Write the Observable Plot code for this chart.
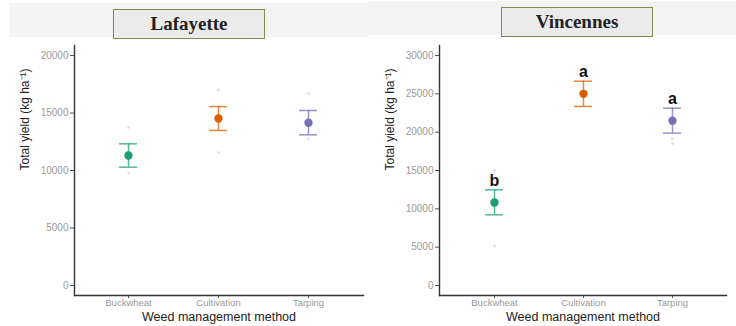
<!DOCTYPE html>
<html>
<head>
<meta charset="utf-8">
<script src="https://cdn.jsdelivr.net/npm/d3@7"></script>
<script src="https://cdn.jsdelivr.net/npm/@observablehq/plot@0.6"></script>
<style>
  html, body { margin: 0; padding: 0; background: #fff; }
  #wrap { position: relative; width: 736px; height: 326px; overflow: hidden; font-family: "Liberation Sans", Arial, sans-serif; }
  .panel { position: absolute; top: 0; width: 368px; height: 326px; }
  .band { position: absolute; top: 3px; height: 34px; background: #f3f3f3; }
  .tbox { position: absolute; height: 28px; background: #ebebeb; border: 1.5px solid #7f8c4c; box-sizing: border-box;
          font-family: "Liberation Serif", "DejaVu Serif", serif; font-weight: bold; font-size: 19px; color: #222;
          display: flex; align-items: center; justify-content: center; }
  .chart { position: absolute; left: 0; top: 40px; }
</style>
</head>
<body>
<div id="wrap">
  <div class="panel" id="left" style="left:0">
    <div class="band" style="left:10px; width:358px"></div>
    <div class="tbox" style="left:113px; top:9px; width:152px; height:30px">Lafayette</div>
    <div class="chart" id="chartL"></div>
  </div>
  <div class="panel" id="right" style="left:368px">
    <div class="band" style="left:0; width:368px; top:1px"></div>
    <div class="tbox" style="left:133px; top:7px; width:152px; height:30px">Vincennes</div>
    <div class="chart" id="chartR"></div>
  </div>
</div>
<script>
// ---- data ----
const categories = ["Buckwheat", "Cultivation", "Tarping"];
const colors = ["#1b9e77", "#d95f02", "#7570b3"];

// Lafayette
const lafMean  = [11300, 14520, 14150];
const lafLower = [10290, 13480, 13100];
const lafUpper = [12320, 15560, 15220];
const lafRawCat = ["Buckwheat", "Buckwheat", "Cultivation", "Cultivation", "Tarping", "Tarping"];
const lafRawVal = [13750, 9780, 17000, 11550, 16700, 12750];
const lafTicks = [0, 5000, 10000, 15000, 20000];

// Vincennes
const vinMean  = [10830, 25000, 21500];
const vinLower = [9220, 23350, 19870];
const vinUpper = [12480, 26650, 23130];
const vinLetters = ["b", "a", "a"];
const vinRawCat = ["Buckwheat", "Buckwheat", "Tarping", "Tarping"];
const vinRawVal = [15000, 5150, 19100, 18500];
const vinTicks = [0, 5000, 10000, 15000, 20000, 25000, 30000];

function makeChart({mean, lower, upper, letters, rawCat, rawVal, ticks, domain, marginLeft, marginRight}) {
  const summary = categories.map((c, i) => ({cat: c, mean: mean[i], lo: lower[i], hi: upper[i], letter: letters ? letters[i] : ""}));
  const raw = rawCat.map((c, i) => ({cat: c, v: rawVal[i]}));
  const ebar = {stroke: "cat", strokeWidth: 1.5, strokeOpacity: 0.75};
  return Plot.plot({
    width: 368,
    height: 286,
    marginTop: 5,
    marginBottom: 31,
    marginLeft,
    marginRight,
    style: {fontFamily: "'Liberation Sans', Arial, sans-serif", background: "transparent"},
    x: {type: "band", domain: categories, paddingInner: 0.8, paddingOuter: 0.5, label: null},
    y: {domain, label: null},
    color: {domain: categories, range: colors},
    marks: [
      Plot.axisY({ticks, tickSize: 4, tickPadding: 2, fontSize: 10, color: "#999", stroke: "#555", label: null, tickFormat: d => String(d)}),
      Plot.axisX({tickSize: 3, tickPadding: 1, fontSize: 9.5, color: "#999", stroke: "#555", label: null}),
      Plot.frame({anchor: "left", stroke: "#333", strokeWidth: 1.4}),
      Plot.frame({anchor: "bottom", stroke: "#333", strokeWidth: 1.4}),
      Plot.dot(raw, {x: "cat", y: "v", fill: "#888", r: 1.4, fillOpacity: 0.25}),
      Plot.ruleX(summary, {x: "cat", y1: "lo", y2: "hi", ...ebar}),
      Plot.tickY(summary, {x: "cat", y: "lo", ...ebar}),
      Plot.tickY(summary, {x: "cat", y: "hi", ...ebar}),
      Plot.dot(summary, {x: "cat", y: "mean", fill: "cat", r: 4.2}),
      Plot.text(["Total yield (kg ha⁻¹)"], {frameAnchor: "left", dx: -49, rotate: -90, fontSize: 12, fill: "#222", text: d => d}),
      Plot.text(["Weed management method"], {frameAnchor: "bottom", dy: 25, fontSize: 12.5, fill: "#222", text: d => d}),
      ...(letters ? [Plot.text(summary, {x: "cat", y: "hi", text: "letter", dy: -4, lineAnchor: "bottom", fontSize: 16, fontWeight: "bold", fill: "#111"})] : [])
    ]
  });
}

const left = makeChart({mean: lafMean, lower: lafLower, upper: lafUpper, letters: null, rawCat: lafRawCat, rawVal: lafRawVal, ticks: lafTicks, domain: [-870, 20870], marginLeft: 74, marginRight: 5});
const right = makeChart({mean: vinMean, lower: vinLower, upper: vinUpper, letters: vinLetters, rawCat: vinRawCat, rawVal: vinRawVal, ticks: vinTicks, domain: [-1304, 31304], marginLeft: 71, marginRight: 10});
document.getElementById("chartL").appendChild(left);
document.getElementById("chartR").appendChild(right);
</script>
</body>
</html>
